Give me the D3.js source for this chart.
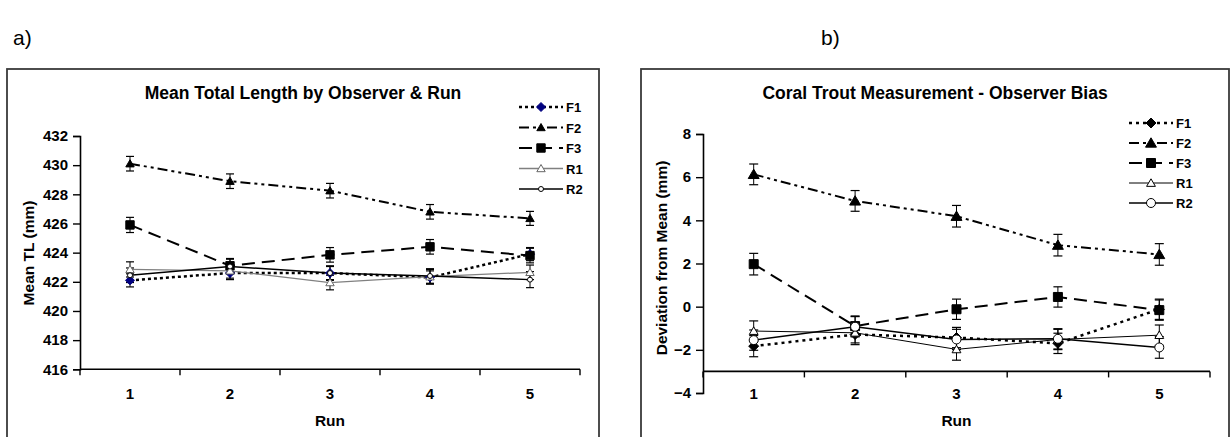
<!DOCTYPE html>
<html><head><meta charset="utf-8">
<script src="https://cdn.jsdelivr.net/npm/d3@7"></script>
<style>
body{margin:0;background:#fff;}
svg{display:block;font-family:"Liberation Sans",Arial,sans-serif;}
</style></head>
<body>
<svg id="chart" width="1232" height="437"></svg>
<script>
// ---------- data ----------
const runs = [1, 2, 3, 4, 5];
const seriesNames = ["F1", "F2", "F3", "R1", "R2"];

// a) Mean total length (mm)
const tlF1 = [422.1, 422.6, 422.6, 422.3, 423.9];
const tlF2 = [430.1, 428.9, 428.25, 426.8, 426.35];
const tlF3 = [425.9, 423.1, 423.85, 424.4, 423.8];
const tlR1 = [422.85, 422.75, 421.95, 422.35, 422.65];
const tlR2 = [422.45, 423.05, 422.6, 422.4, 422.15];
const tlErrF1 = [0.45, 0.45, 0.45, 0.45, 0.45];
const tlErrF2 = [0.5, 0.5, 0.5, 0.5, 0.48];
const tlErrF3 = [0.52, 0.5, 0.5, 0.5, 0.5];
const tlErrR1 = [0.52, 0.5, 0.5, 0.5, 0.5];
const tlErrR2 = [0.5, 0.5, 0.5, 0.5, 0.55];
const tlTicks = [416, 418, 420, 422, 424, 426, 428, 430, 432];

// b) Deviation from mean (mm)
const devF1 = [-1.83, -1.29, -1.43, -1.7, -0.12];
const devF2 = [6.13, 4.9, 4.19, 2.85, 2.42];
const devF3 = [1.97, -0.9, -0.12, 0.45, -0.16];
const devR1 = [-1.13, -1.21, -1.98, -1.52, -1.32];
const devR2 = [-1.55, -0.93, -1.52, -1.49, -1.89];
const devErrF1 = [0.49, 0.47, 0.47, 0.47, 0.47];
const devErrF2 = [0.48, 0.48, 0.5, 0.5, 0.5];
const devErrF3 = [0.5, 0.47, 0.47, 0.47, 0.47];
const devErrR1 = [0.47, 0.47, 0.5, 0.47, 0.47];
const devErrR2 = [0.47, 0.47, 0.47, 0.47, 0.5];
const devTicks = [-4, -2, 0, 2, 4, 6, 8];

// ---------- marker shapes ----------
const diamondSym = {draw(ctx, s){ ctx.moveTo(0,-s); ctx.lineTo(s,0); ctx.lineTo(0,s); ctx.lineTo(-s,0); ctx.closePath(); }};
const triangleSym = {draw(ctx, s){ ctx.moveTo(0,-s); ctx.lineTo(s*1.05,s*0.8); ctx.lineTo(-s*1.05,s*0.8); ctx.closePath(); }};
const squareSym = {draw(ctx, s){ ctx.moveTo(-s,-s); ctx.lineTo(s,-s); ctx.lineTo(s,s); ctx.lineTo(-s,s); ctx.closePath(); }};
const circleSym = {draw(ctx, s){ ctx.moveTo(s,0); ctx.arc(0,0,s,0,2*Math.PI); }};

const svg = d3.select("#chart");

function drawPanel(p){
  const g = svg.append("g");
  // frame
  g.append("rect").attr("x", p.frame[0]).attr("y", p.frame[1])
    .attr("width", p.frame[2]-p.frame[0]).attr("height", 460-p.frame[1])
    .attr("fill", "none").attr("stroke", "#3a3a3a").attr("stroke-width", 1.8);
  // panel letter
  svg.append("text").attr("x", p.letterX).attr("y", 45).attr("font-size", 21)
    .attr("fill", "#000").text(p.letter);
  // title
  g.append("text").attr("x", (p.frame[0]+p.frame[2])/2).attr("y", 99).attr("text-anchor", "middle")
    .attr("font-size", 17.5).attr("font-weight", "bold").text(p.title);

  const x = d3.scaleBand().domain(runs).range(p.xRange);
  const y = d3.scaleLinear().domain(p.yDomain).range(p.yRange);
  const cx = r => x(r) + x.bandwidth()/2;

  // y axis
  const yAxis = g.append("g").attr("transform", `translate(${p.xRange[0]},0)`)
    .call(d3.axisLeft(y).tickValues(p.yTicks).tickSizeOuter(0).tickSize(7).tickPadding(5));
  yAxis.select(".domain").attr("stroke-width", 1.6);
  yAxis.selectAll(".tick line").attr("stroke-width", 1.4);
  yAxis.selectAll("text").attr("font-size", 15).attr("font-weight", "bold")
    .attr("font-family", "Liberation Sans, Arial, sans-serif").attr("fill", "#000");
  // x axis (ticks between categories)
  const xAxisY = y(p.xCross);
  const xa = g.append("g").attr("transform", `translate(0,${xAxisY})`);
  xa.append("line").attr("x1", p.xRange[0]).attr("x2", p.xRange[1]).attr("stroke", "#000").attr("stroke-width", 1.6);
  const edges = runs.map(r => x(r)).concat([p.xRange[1]]);
  xa.selectAll("line.tk").data(edges).join("line").attr("class","tk")
    .attr("x1", d => d).attr("x2", d => d).attr("y1", 0).attr("y2", 6)
    .attr("stroke", "#000").attr("stroke-width", 1.4);
  g.selectAll("text.xl").data(runs).join("text").attr("class","xl")
    .attr("x", d => cx(d)).attr("y", 399).attr("text-anchor", "middle")
    .attr("font-size", 15).attr("font-weight", "bold").text(d => d);
  // axis titles
  g.append("text").attr("x", (p.xRange[0]+p.xRange[1])/2).attr("y", 426)
    .attr("text-anchor", "middle").attr("font-size", 15.5).attr("font-weight", "bold").text("Run");
  g.append("text").attr("transform", `translate(${p.yTitleX},${p.yTitleY}) rotate(-90)`)
    .attr("text-anchor", "middle").attr("font-size", 15.5).attr("font-weight", "bold").text(p.yTitle);

  // series
  p.series.forEach(s => {
    const pts = runs.map((r,i) => ({r, v: s.values[i], e: s.err[i]}));
    const line = d3.line().x(d => cx(d.r)).y(d => y(d.v));
    g.append("path").datum(pts).attr("d", line).attr("fill", "none")
      .attr("stroke", s.lineColor).attr("stroke-width", s.lw)
      .attr("stroke-dasharray", s.dash || null);
    // error bars
    const eb = g.append("g");
    pts.forEach(d => {
      const x0 = cx(d.r);
      eb.append("line").attr("x1", x0).attr("x2", x0).attr("y1", y(d.v - d.e)).attr("y2", y(d.v + d.e)).attr("stroke", "#000").attr("stroke-width", 1);
      [d.v - d.e, d.v + d.e].forEach(vv => {
        eb.append("line").attr("x1", x0 - p.cap).attr("x2", x0 + p.cap).attr("y1", y(vv)).attr("y2", y(vv)).attr("stroke", "#000").attr("stroke-width", 1.2);
      });
    });
  });
  p.series.forEach(s => {
    const pts = runs.map((r,i) => ({r, v: s.values[i]}));
    g.selectAll(null).data(pts).join("path")
      .attr("transform", d => `translate(${cx(d.r)},${y(d.v)})`)
      .attr("d", d3.symbol(s.sym, s.size))
      .attr("fill", s.fill).attr("stroke", s.stroke).attr("stroke-width", s.sw);
  });

  // legend
  const lg = g.append("g");
  p.series.forEach((s, i) => {
    const ly = p.legY + i*p.legStep;
    lg.append("line").attr("x1", p.legX).attr("x2", p.legX + 44).attr("y1", ly).attr("y2", ly)
      .attr("stroke", s.lineColor).attr("stroke-width", s.lw).attr("stroke-dasharray", s.dash || null);
    lg.append("path").attr("transform", `translate(${p.legX+22},${ly})`)
      .attr("d", d3.symbol(s.sym, s.size))
      .attr("fill", s.fill).attr("stroke", s.stroke).attr("stroke-width", s.sw);
    lg.append("text").attr("x", p.legX + 47).attr("y", ly + 5).attr("font-size", 13)
      .attr("font-weight", "bold").text(seriesNames[i]);
  });
}

drawPanel({
  letter: "a)", letterX: 13,
  frame: [7, 69, 599],
  title: "Mean Total Length by Observer & Run",
  xRange: [80, 580], yDomain: [416, 432], yRange: [369.3, 136],
  yTicks: tlTicks, xCross: 416, cap: 4,
  yTitle: "Mean TL (mm)", yTitleX: 34, yTitleY: 253,
  legX: 519, legY: 107, legStep: 20.5,
  series: [
    {values: tlF1, err: tlErrF1, sym: diamondSym, size: 4.5, fill: "#000080", stroke: "#000080", sw: 1, lineColor: "#000", lw: 2.5, dash: "3,3"},
    {values: tlF2, err: tlErrF2, sym: triangleSym, size: 4, fill: "#000", stroke: "#000", sw: 1, lineColor: "#000", lw: 2, dash: "10,4,3,4,3,4"},
    {values: tlF3, err: tlErrF3, sym: squareSym, size: 4.2, fill: "#000", stroke: "#000", sw: 1, lineColor: "#000", lw: 2, dash: "13,7"},
    {values: tlR1, err: tlErrR1, sym: triangleSym, size: 4, fill: "#fff", stroke: "#666", sw: 1, lineColor: "#808080", lw: 1.3, dash: null},
    {values: tlR2, err: tlErrR2, sym: circleSym, size: 2.5, fill: "#fff", stroke: "#000", sw: 1, lineColor: "#000", lw: 1.5, dash: null}
  ]
});

drawPanel({
  letter: "b)", letterX: 821,
  frame: [641, 69, 1229],
  title: "Coral Trout Measurement - Observer Bias",
  xRange: [703, 1210], yDomain: [-4, 8], yRange: [393, 134],
  yTicks: devTicks, xCross: -3, cap: 4.5,
  yTitle: "Deviation from Mean (mm)", yTitleX: 667, yTitleY: 258,
  legX: 1129, legY: 123, legStep: 20,
  series: [
    {values: devF1, err: devErrF1, sym: diamondSym, size: 5, fill: "#000", stroke: "#000", sw: 1, lineColor: "#000", lw: 2.5, dash: "3,4"},
    {values: devF2, err: devErrF2, sym: triangleSym, size: 5.2, fill: "#000", stroke: "#000", sw: 1, lineColor: "#000", lw: 2, dash: "10,4,3,4,3,4"},
    {values: devF3, err: devErrF3, sym: squareSym, size: 4.5, fill: "#000", stroke: "#000", sw: 1, lineColor: "#000", lw: 2, dash: "13,7"},
    {values: devR1, err: devErrR1, sym: triangleSym, size: 4.2, fill: "#fff", stroke: "#000", sw: 1, lineColor: "#000", lw: 1, dash: null},
    {values: devR2, err: devErrR2, sym: circleSym, size: 4.5, fill: "#fff", stroke: "#000", sw: 1, lineColor: "#000", lw: 1.5, dash: null}
  ]
});
</script>
</body></html>
